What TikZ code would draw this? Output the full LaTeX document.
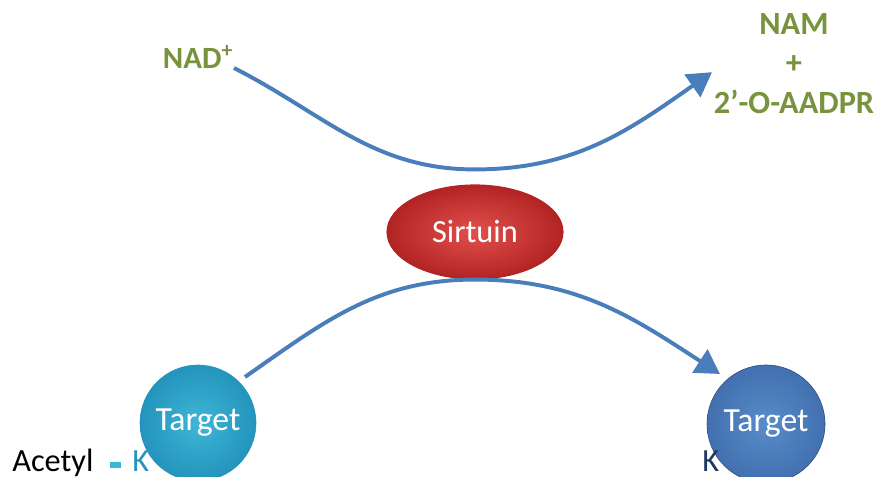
\documentclass[tikz,border=0pt]{standalone}
\usepackage{fontspec}
\setmainfont{Carlito}
\usetikzlibrary{arrows.meta,shapes.geometric}

\definecolor{verdeNAD}{RGB}{119,147,60}
\definecolor{azulFlecha}{RGB}{74,126,187}
\definecolor{rojoClaro}{RGB}{226,80,76}
\definecolor{rojoOscuro}{RGB}{178,36,36}
\definecolor{turquesaClaro}{RGB}{62,182,214}
\definecolor{turquesaOscuro}{RGB}{36,148,188}
\definecolor{azulClaro}{RGB}{88,140,200}
\definecolor{azulOscuro}{RGB}{66,112,176}
\definecolor{azulNoche}{RGB}{31,56,96}

\begin{document}
\begin{tikzpicture}[
    flecha/.style={line width=2.8pt, azulFlecha, -{Triangle[length=0.6cm,width=0.68cm]}},
    verde/.style={text=verdeNAD, font=\fontsize{23}{28}\selectfont\bfseries},
    diana/.style={circle, text=white, font=\fontsize{24}{28}\selectfont},
    etiqueta/.style={inner sep=0pt, font=\fontsize{23}{27}\selectfont}
  ]
    % Marco
    \useasboundingbox (0,0) rectangle (22,11.925);

    % Sirtuina
    \node[ellipse, minimum width=4.4cm, minimum height=2.35cm, draw=rojoOscuro, thick,
          inner color=rojoClaro, outer color=rojoOscuro, text=white,
          font=\fontsize{23}{27}\selectfont] (sirtuin) at (11.875,6.125) {Sirtuin};

    % Sustrato y productos
    \node[verde, font=\fontsize{22}{26}\selectfont\bfseries] (nad) at (4.95,10.5) {NAD\textsuperscript{+}};
    \node[verde, align=center] (productos) at (19.85,10.34) {NAM\\+\\2’-O-AADPR};

    % Dianas
    \node[diana, minimum size=2.9cm, draw=turquesaOscuro, inner color=turquesaClaro,
          outer color=turquesaOscuro] (diana1) at (4.95,1.35) {Target};
    \node[diana, minimum size=2.95cm, draw=azulNoche!70!azulOscuro, inner color=azulClaro,
          outer color=azulOscuro] (diana2) at (19.15,1.325) {Target};

    % Etiquetas de lisina
    \node[etiqueta, anchor=base west] (acetilo) at (0.3,0.125) {Acetyl};
    \node[etiqueta, anchor=base west, text=turquesaOscuro] (k1) at (3.3,0.125) {K};
    \node[etiqueta, anchor=base west, text=azulNoche] (k2) at (17.55,0.125) {K};
    \draw[line width=4.5pt, turquesaClaro, shorten <=0.4cm, shorten >=0.27cm]
        ([yshift=5pt]acetilo.base east) -- ([yshift=5pt]k1.base west);

    % Extremos de las flechas
    \coordinate (nadfin) at (5.85,10.225);
    \coordinate (prodpunta) at (17.8,10.12);
    \coordinate (diana1fin) at (6.125,2.5);
    \coordinate (diana2punta) at (18.0,2.575);

    % Reaccion
    \draw[flecha] (nadfin) to[out=-27,in=180] ([yshift=0.375cm]sirtuin.north)
        to[out=0,in=-145] (prodpunta);
    \draw[flecha] (diana1fin) to[out=35,in=180] (sirtuin.south)
        to[out=0,in=147] (diana2punta);

  \end{tikzpicture}
\end{document}
